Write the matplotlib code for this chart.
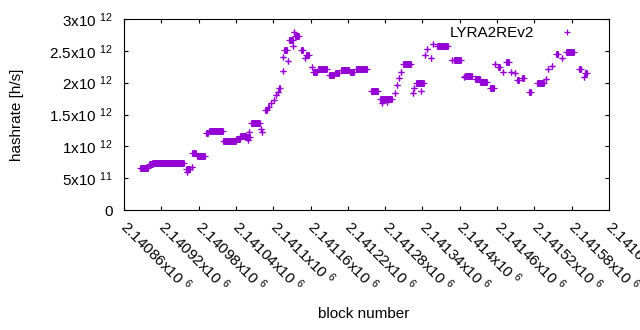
import numpy as np
import matplotlib.pyplot as plt
from matplotlib.ticker import FuncFormatter, MultipleLocator

plt.rcParams['font.family'] = ['Liberation Sans', 'DejaVu Sans']
plt.rcParams['mathtext.fontset'] = 'custom'
plt.rcParams['mathtext.rm'] = 'Liberation Sans'
plt.rcParams['mathtext.default'] = 'regular'
plt.rcParams['font.size'] = 11

# runs of consecutive blocks with (about) the same hashrate, in 10^12 h/s
# a run with start == end is a single block
run_start = [2140886, 2140900, 2140905, 2140960, 2140961, 2140969, 2140970, 2140977,
             2140992, 2140996, 2141020, 2141040, 2141047, 2141057, 2141060, 2141061,
             2141065, 2141081, 2141082, 2141086, 2141092, 2141096, 2141101, 2141104,
             2141107, 2141110, 2141115, 2141116, 2141117, 2141124, 2141126, 2141132,
             2141134, 2141135, 2141144, 2141151, 2141153, 2141162, 2141164, 2141172,
             2141189, 2141199, 2141209, 2141224, 2141233, 2141258, 2141271, 2141275,
             2141283, 2141296, 2141299, 2141302, 2141305, 2141309, 2141325, 2141327,
             2141330, 2141338, 2141344, 2141348, 2141354, 2141357, 2141363, 2141387,
             2141391, 2141406, 2141408, 2141424, 2141433, 2141448, 2141457, 2141461,
             2141469, 2141474, 2141483, 2141489, 2141492, 2141500, 2141511, 2141524,
             2141538, 2141542, 2141548, 2141555, 2141564, 2141571, 2141592, 2141599,
             2141602]
run_end = [2140899, 2140906, 2140956, 2140966, 2140961, 2140969, 2140976, 2140990,
           2140995, 2141019, 2141040, 2141046, 2141056, 2141062, 2141060, 2141061,
           2141078, 2141081, 2141082, 2141090, 2141093, 2141097, 2141102, 2141105,
           2141108, 2141111, 2141115, 2141116, 2141122, 2141124, 2141131, 2141132,
           2141134, 2141141, 2141148, 2141151, 2141158, 2141162, 2141171, 2141186,
           2141198, 2141206, 2141222, 2141230, 2141250, 2141268, 2141291, 2141275,
           2141283, 2141296, 2141299, 2141302, 2141305, 2141322, 2141325, 2141327,
           2141342, 2141338, 2141344, 2141348, 2141354, 2141357, 2141381, 2141387,
           2141402, 2141406, 2141419, 2141432, 2141443, 2141455, 2141457, 2141465,
           2141469, 2141479, 2141483, 2141489, 2141496, 2141504, 2141515, 2141535,
           2141538, 2141542, 2141548, 2141558, 2141564, 2141584, 2141595, 2141599,
           2141605]
run_value = [0.66, 0.72, 0.74, 0.64, 0.59, 0.67, 0.89, 0.85,
             1.21, 1.24, 1.08, 1.12, 1.17, 1.14, 1.10, 1.22,
             1.36, 1.27, 1.22, 1.57, 1.62, 1.68, 1.73, 1.80,
             1.86, 1.92, 2.19, 2.41, 2.51, 2.34, 2.67, 2.57,
             2.79, 2.73, 2.51, 2.38, 2.43, 2.24, 2.16, 2.22,
             2.12, 2.15, 2.20, 2.17, 2.21, 1.87, 1.75, 1.68,
             1.70, 1.83, 1.96, 2.07, 2.17, 2.29, 1.83, 1.92,
             1.99, 1.87, 2.44, 2.53, 2.38, 2.60, 2.58, 2.36,
             2.36, 2.09, 2.11, 2.06, 2.01, 1.91, 2.29, 2.24,
             2.17, 2.32, 2.17, 2.15, 2.04, 2.07, 1.85, 1.99,
             2.05, 2.21, 2.26, 2.45, 2.38, 2.48, 2.21, 2.09,
             2.15]

series_name = 'LYRA2REv2'
block_min, block_max, block_step = 2140860, 2141640, 60
color = '#9400d3'


def sci_label(v, pos):
    if v == 0:
        return '0'
    e = int(np.floor(np.log10(abs(v)) + 1e-9))
    m = v / 10 ** e
    return '%gx10 $^{%d}$' % (round(m, 6), e)


def block_label(v, pos):
    m = ('%.5f' % (v / 1e6)).rstrip('0').rstrip('.')
    return m + 'x10 $^{6}$'


xs = np.array(run_start)
xe = np.array(run_end)
hr = np.array(run_value) * 1e12

fig = plt.figure(figsize=(6.4, 3.3), dpi=100)
ax = fig.add_axes([124 / 640, 120 / 330, 485 / 640, 191 / 330])

# a dense run of '+' marks looks like a solid bar with arms at both ends
ax.hlines(hr, xs, xe, colors=color, linewidth=5, capstyle='butt')
ax.plot(np.concatenate([xs, xe]), np.concatenate([hr, hr]), '+', color=color,
        ms=5, mew=0.9, linestyle='none', label=series_name)

ax.set_xlim(block_min, block_max)
ax.set_ylim(0, 3e12)
ax.set_xticks(np.arange(block_min, block_max + 1, block_step))
ax.yaxis.set_major_locator(MultipleLocator(0.5e12))
ax.xaxis.set_major_formatter(FuncFormatter(block_label))
ax.yaxis.set_major_formatter(FuncFormatter(sci_label))
ax.tick_params(direction='in', top=True, right=True, length=3, width=0.8, colors='black')
ax.tick_params(axis='y', pad=8)
ax.tick_params(axis='x', pad=10)
for lab in ax.get_xticklabels():
    lab.set_rotation(-45)
    lab.set_ha('left')
    lab.set_va('center')
    lab.set_rotation_mode('anchor')
for s in ax.spines.values():
    s.set_linewidth(0.8)

ax.set_ylabel('hashrate [h/s]')
ax.yaxis.set_label_coords(-0.206, 0.497)
ax.set_xlabel('block number')
ax.xaxis.set_label_coords(0.495, -0.51)

ax.legend(loc='upper right', bbox_to_anchor=(0.9456, 0.962), frameon=False,
          markerfirst=False, handlelength=2, handletextpad=1.2, borderpad=0,
          borderaxespad=0)

fig.savefig('out.png', dpi=100)
